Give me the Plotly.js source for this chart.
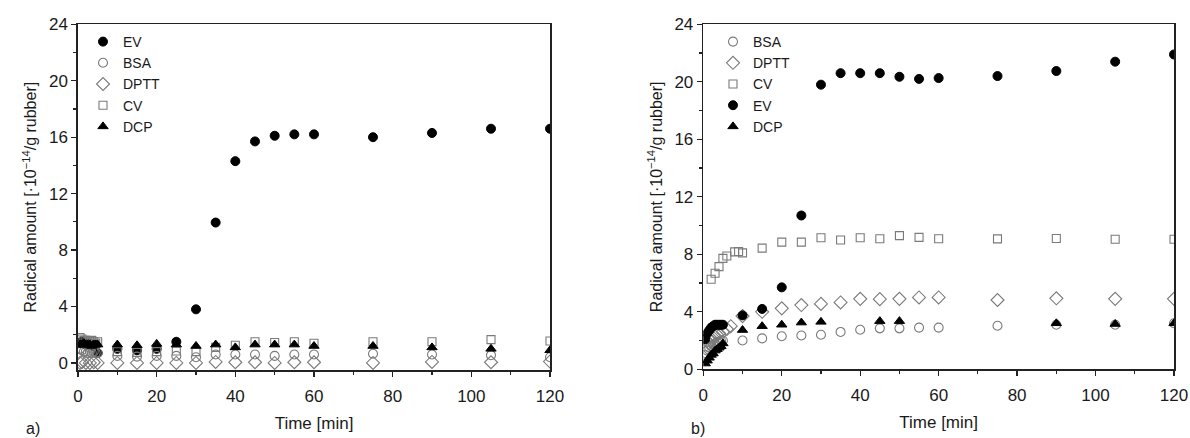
<!DOCTYPE html>
<html>
<head>
<meta charset="utf-8">
<script src="https://cdn.plot.ly/plotly-3.0.1.min.js"></script>
<style>html,body{margin:0;padding:0;background:#fff;}#chart{width:1190px;height:438px;}</style>
</head>
<body>
<div id="chart"></div>
<script>
// ---------- Panel a) ----------
const a_EV_t   = [0.5,1,1.5,2,2.5,3,3.5,4,4.5,5,10,15,20,25,30,35,40,45,50,55,60,75,90,105,120];
const a_EV_v   = [1.4,1.5,1.4,1.3,1.4,1.3,1.3,1.2,1.3,0.7,1.0,0.9,1.0,1.5,3.8,9.95,14.3,15.7,16.1,16.2,16.2,16.0,16.3,16.6,16.6];
const a_BSA_t  = [0.5,1,1.5,2,2.5,3,3.5,4,4.5,5,10,15,20,25,30,35,40,45,50,55,60,75,90,105,120];
const a_BSA_v  = [1.0,0.9,0.8,0.8,0.7,0.8,0.7,0.8,0.7,0.7,0.5,0.45,0.5,0.5,0.4,0.6,0.6,0.6,0.5,0.6,0.6,0.65,0.6,0.55,0.4];
const a_DPTT_t = [0.5,1,2,3,4,5,10,15,20,25,30,35,40,45,50,55,60,75,90,105,120];
const a_DPTT_v = [0.0,0.05,0.0,0.0,0.05,0.0,0.0,0.0,0.0,0.0,0.0,0.07,0.05,0.05,0.0,0.05,0.05,0.0,0.07,0.05,0.1];
const a_CV_t   = [0.5,1,1.5,2,2.5,3,3.5,4,4.5,5,10,15,20,25,30,35,40,45,50,55,60,75,90,105,120];
const a_CV_v   = [1.8,1.7,1.6,1.6,1.5,1.5,1.6,1.5,1.4,1.5,0.8,0.75,0.8,0.85,0.8,1.1,1.25,1.5,1.45,1.5,1.4,1.5,1.5,1.65,1.55];
const a_DCP_t  = [0.5,1,1.5,2,2.5,3,3.5,4,4.5,5,10,15,20,25,30,35,40,45,50,55,60,75,90,105,120];
const a_DCP_v  = [1.3,1.3,1.4,1.3,1.3,1.3,1.2,1.3,1.3,1.3,1.3,1.25,1.35,1.3,1.2,1.3,1.1,1.3,1.3,1.3,1.2,1.2,1.1,1.0,0.9];

// ---------- Panel b) ----------
const b_BSA_t  = [0.5,1,1.5,2,2.5,3,3.5,4,4.5,5,10,15,20,25,30,35,40,45,50,55,60,75,90,105,120];
const b_BSA_v  = [1.0,1.3,1.5,1.6,1.7,1.8,1.9,1.9,2.0,2.0,2.0,2.15,2.3,2.35,2.4,2.6,2.75,2.85,2.85,2.9,2.9,3.03,3.1,3.1,3.2];
const b_DPTT_t = [0.5,1,1.5,2,2.5,3,3.5,4,5,6,7,10,15,20,25,30,35,40,45,50,55,60,75,90,105,120];
const b_DPTT_v = [1.2,1.5,1.8,2.0,2.2,2.3,2.4,2.5,2.6,2.8,3.0,3.7,4.0,4.24,4.47,4.55,4.65,4.9,4.88,4.9,5.0,5.0,4.82,4.94,4.9,4.9];
const b_CV_t   = [2,3,4,5,6,8,9,10,15,20,25,30,35,40,45,50,55,60,75,90,105,120];
const b_CV_v   = [6.26,6.68,7.14,7.72,7.88,8.17,8.2,8.1,8.43,8.85,8.85,9.15,9.0,9.15,9.08,9.3,9.18,9.08,9.07,9.1,9.05,9.05];
const b_EV_t   = [0.5,1,1.5,2,2.5,3,3.5,4,4.5,5,10,15,20,25,30,35,40,45,50,55,60,75,90,105,120];
const b_EV_v   = [2.1,2.5,2.7,2.9,3.0,3.1,3.1,3.1,3.1,3.1,3.75,4.2,5.7,10.7,19.8,20.6,20.6,20.6,20.35,20.2,20.26,20.4,20.75,21.4,21.9];
const b_DCP_t  = [0.5,1,1.5,2,2.5,3,3.5,4,4.5,5,10,15,20,25,30,45,50,90,105,120];
const b_DCP_v  = [0.4,0.6,0.8,1.0,1.1,1.3,1.4,1.5,1.6,1.8,2.73,3.0,3.1,3.25,3.3,3.35,3.35,3.2,3.15,3.2];

const yTickVals = [0,4,8,12,16,20,24];
const yMinorVals = [2,6,10,14,18,22];
const xTickVals = [0,20,40,60,80,100,120];
const xTitle = 'Time [min]';
const yTitle = 'Radical amount [·10<sup>−14</sup>/g rubber]';
const panelLabels = ['a)', 'b)'];

const GRAY = '#7a7a7a';
const BLACK = '#000000';
const style = {
  EV:   {symbol:'circle', size:9, color:BLACK, line:{color:BLACK, width:1}},
  BSA:  {symbol:'circle-open', size:9, color:GRAY, line:{color:GRAY, width:1.1}},
  DPTT: {symbol:'diamond-open', size:10, color:GRAY, line:{color:GRAY, width:1.1}},
  CV:   {symbol:'square-open', size:8, color:GRAY, line:{color:GRAY, width:1.1}},
  DCP:  {symbol:'triangle-up', size:9, color:BLACK, line:{color:BLACK, width:1}}
};
function tr(name, t, v, xa, ya, leg){
  return {type:'scatter', mode:'markers', name:name, x:t, y:v, xaxis:xa, yaxis:ya,
          legend:leg, marker:style[name], cliponaxis:true};
}
const data = [
  tr('EV', a_EV_t, a_EV_v, 'x', 'y', 'legend'),
  tr('BSA', a_BSA_t, a_BSA_v, 'x', 'y', 'legend'),
  tr('DPTT', a_DPTT_t, a_DPTT_v, 'x', 'y', 'legend'),
  tr('CV', a_CV_t, a_CV_v, 'x', 'y', 'legend'),
  tr('DCP', a_DCP_t, a_DCP_v, 'x', 'y', 'legend'),
  tr('BSA', b_BSA_t, b_BSA_v, 'x2', 'y2', 'legend2'),
  tr('DPTT', b_DPTT_t, b_DPTT_v, 'x2', 'y2', 'legend2'),
  tr('CV', b_CV_t, b_CV_v, 'x2', 'y2', 'legend2'),
  tr('EV', b_EV_t, b_EV_v, 'x2', 'y2', 'legend2'),
  tr('DCP', b_DCP_t, b_DCP_v, 'x2', 'y2', 'legend2')
];

const FONT = 'Liberation Sans, Arial, sans-serif';
const TXT = '#1a1a1a';
function xAxis(dom, anchor){
  return {domain:dom, anchor:anchor, range:[0,120], tickvals:xTickVals, ticks:'outside', ticklen:5,
    tickwidth:1.3, tickcolor:'#222', showline:true, linecolor:'#222', linewidth:1.6, mirror:true,
    showgrid:false, zeroline:false, tickfont:{family:FONT, size:17, color:TXT}, ticklabelstandoff:5,
    minor:{dtick:10, ticks:'outside', ticklen:3, tickwidth:1.2, tickcolor:'#222'},
    title:{text:xTitle, font:{family:FONT, size:17, color:TXT}, standoff:12}};
}
function yAxis(dom, anchor, range){
  return {domain:dom, anchor:anchor, range:range, tickvals:yTickVals, ticks:'outside', ticklen:5,
    tickwidth:1.3, tickcolor:'#222', showline:true, linecolor:'#222', linewidth:1.6, mirror:true,
    showgrid:false, zeroline:false, tickfont:{family:FONT, size:17, color:TXT},
    minor:{tickvals:yMinorVals, ticks:'outside', ticklen:3, tickwidth:1.2, tickcolor:'#222'},
    title:{text:yTitle, font:{family:FONT, size:16, color:TXT}, standoff:8}};
}
const yDom = [(438-370)/438, (438-24.3)/438];
const yDom2 = [(438-369.3)/438, (438-24.3)/438];
const legendStyle = {xanchor:'left', yanchor:'top', bgcolor:'rgba(0,0,0,0)',
           font:{family:FONT, size:14, color:TXT}, tracegroupgap:0};
const layout = {
  width:1190, height:438, margin:{l:0, r:0, t:0, b:0},
  paper_bgcolor:'#fff', plot_bgcolor:'#fff', font:{family:FONT, color:TXT},
  xaxis: xAxis([78/1190, 550/1190], 'y'),
  yaxis: yAxis(yDom, 'x', [-0.5, 24]),
  xaxis2: xAxis([703.3/1190, 1174/1190], 'y2'),
  yaxis2: yAxis(yDom2, 'x2', [0, 24]),
  legend: Object.assign({x:83/1190, y:1-26/438}, legendStyle),
  legend2: Object.assign({x:713/1190, y:1-26/438}, legendStyle),
  showlegend:true,
  annotations:[
    {text:panelLabels[0], xref:'paper', yref:'paper', x:24/1190, y:1-428/438, xanchor:'left', yanchor:'middle',
     showarrow:false, font:{family:FONT, size:16, color:TXT}},
    {text:panelLabels[1], xref:'paper', yref:'paper', x:689/1190, y:1-428/438, xanchor:'left', yanchor:'middle',
     showarrow:false, font:{family:FONT, size:16, color:TXT}}
  ]
};
Plotly.newPlot('chart', data, layout, {displayModeBar:false, staticPlot:true});
</script>
</body>
</html>
